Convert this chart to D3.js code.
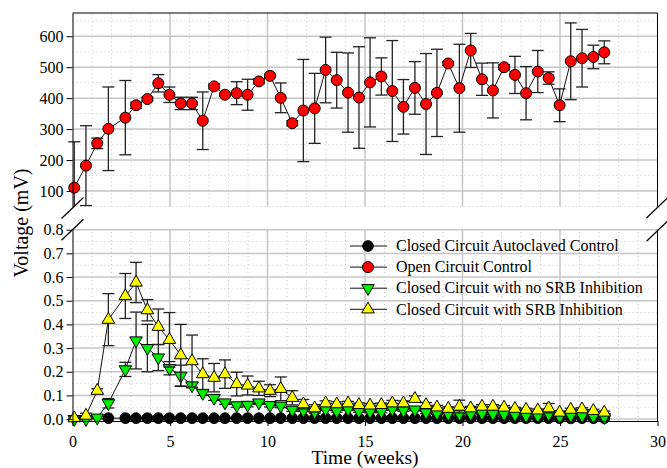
<!DOCTYPE html>
<html>
<head>
<meta charset="utf-8">
<script src="https://cdnjs.cloudflare.com/ajax/libs/d3/7.8.5/d3.min.js"></script>
<style>
body { margin: 0; background: #fff; }
text { font-family: "Liberation Serif", "Times New Roman", serif; }
</style>
</head>
<body>
<div id="chart-area"></div>
<script>
// DATA (time in weeks, voltage: top panel in mV, bottom panel as plotted)
var weeks = [0.09, 0.69, 1.27, 1.84, 2.71, 3.26, 3.84, 4.40, 4.97, 5.55,
  6.13, 6.68, 7.26, 7.82, 8.42, 8.98, 9.56, 10.13, 10.68, 11.27,
  11.84, 12.42, 12.98, 13.55, 14.13, 14.69, 15.26, 15.84, 16.40, 16.97,
  17.56, 18.13, 18.69, 19.27, 19.84, 20.42, 21.0, 21.56, 22.13, 22.69,
  23.26, 23.86, 24.42, 24.98, 25.55, 26.13, 26.71, 27.27]

var openCircuit = [111, 182, 254, 301, 337, 377, 397, 448, 411, 383,
  383, 327, 438, 411, 416, 411, 454, 472, 401, 319,
  360, 367, 491, 458, 418, 402, 451, 470, 423, 372,
  433, 381, 417, 512, 432, 554, 461, 425, 500, 475,
  416, 486, 465, 377, 519, 529, 533, 548]
var openCircuitErr = [148, 129, 17, 135, 120, 10, 6, 28, 25, 20,
  20, 93, 8, 5, 37, 50, 8, 5, 48, 8,
  165, 113, 106, 90, 128, 164, 144, 60, 163, 88,
  85, 163, 141, 6, 142, 55, 52, 89, 8, 60,
  86, 68, 20, 53, 124, 93, 38, 37]

var autoclaved = [null, null, null, 0.004, 0.004, 0.004, 0.004, 0.004, 0.004, 0.004,
  0.004, 0.004, 0.004, 0.004, 0.004, 0.004, 0.004, 0.004, 0.004, 0.004,
  0.004, 0.004, 0.004, 0.004, 0.004, 0.004, 0.004, 0.004, 0.004, 0.004,
  0.004, 0.004, 0.004, 0.004, 0.004, 0.004, 0.004, 0.004, 0.004, 0.004,
  0.004, 0.004, 0.004, 0.004, 0.003, 0.004, 0.004, 0.004]

var noSRB = [0.0, 0.0, 0.006, 0.067, 0.21, 0.332, 0.30, 0.26, 0.215, 0.183,
  0.142, 0.11, 0.089, 0.07, 0.058, 0.06, 0.07, 0.059, 0.056, 0.039,
  0.037, 0.03, 0.042, 0.034, 0.042, 0.034, 0.032, 0.032, 0.042, 0.037,
  0.04, 0.028, 0.025, 0.022, 0.022, 0.022, 0.025, 0.022, 0.021, 0.018,
  0.014, 0.014, 0.021, 0.011, 0.015, 0.014, 0.011, 0.008]
var noSRBErr = [0.003, 0.003, 0.005, 0.02, 0.03, 0.12, 0.10, 0.055, 0.028, 0.045,
  0.01, 0.01, 0.01, 0.008, 0.008, 0.008, 0.008, 0.008, 0.008, 0.006,
  0.005, 0.005, 0.005, 0.005, 0.005, 0.005, 0.005, 0.005, 0.005, 0.005,
  0.005, 0.005, 0.005, 0.005, 0.005, 0.005, 0.005, 0.005, 0.005, 0.005,
  0.005, 0.005, 0.005, 0.005, 0.005, 0.005, 0.005, 0.005]

var withSRB = [0.004, 0.015, 0.12, 0.42, 0.52, 0.577, 0.46, 0.39, 0.335, 0.27,
  0.245, 0.19, 0.175, 0.19, 0.148, 0.142, 0.13, 0.12, 0.128, 0.09,
  0.063, 0.046, 0.067, 0.063, 0.067, 0.06, 0.058, 0.06, 0.067, 0.067,
  0.086, 0.06, 0.05, 0.044, 0.053, 0.046, 0.053, 0.053, 0.049, 0.044,
  0.04, 0.037, 0.046, 0.028, 0.04, 0.042, 0.035, 0.028]
var withSRBErr = [0.005, 0.01, 0.008, 0.11, 0.095, 0.085, 0.045, 0.075, 0.115, 0.13,
  0.11, 0.065, 0.06, 0.06, 0.05, 0.04, 0.03, 0.025, 0.05, 0.03,
  0.02, 0.015, 0.01, 0.01, 0.008, 0.008, 0.008, 0.008, 0.012, 0.01,
  0.012, 0.01, 0.008, 0.008, 0.027, 0.008, 0.008, 0.008, 0.008, 0.006,
  0.006, 0.006, 0.02, 0.006, 0.006, 0.006, 0.006, 0.006]

var topTicks = [100, 200, 300, 400, 500, 600]
var bottomTicks = [0, 0.1, 0.2, 0.3, 0.4, 0.5, 0.6, 0.7, 0.8]
var xTicks = [0, 5, 10, 15, 20, 25, 30]

var legendLabels = ["Closed Circuit Autoclaved Control", "Open Circuit Control",
  "Closed Circuit with no SRB Inhibition", "Closed Circuit with SRB Inhibition"]

var width = 667
var height = 468
var serif = "'Liberation Serif', 'Times New Roman', serif"

var svg = d3.select("#chart-area").append("svg")
.attr("width", width)
.attr("height", height)

var x = d3.scaleLinear().domain([0, 30]).range([72.5, 657.5])
var yTop = d3.scaleLinear().domain([50, 675]).range([206.5, 13])
var yBot = d3.scaleLinear().domain([-0.008, 0.8]).range([421, 229.7])

var gridColor = "#c6c6c6"

// GRID
function drawGrid(y, major, minor) {
  var g = svg.append("g")
  var y0 = y.range()[0], y1 = y.range()[1]
  var xMinor = d3.range(1, 30).filter(d => d % 5 !== 0)
  var xMajor = [5, 10, 15, 20, 25]

  g.selectAll(".vminor").data(xMinor).enter().append("line")
  .attr("x1", d => x(d)).attr("x2", d => x(d))
  .attr("y1", y0).attr("y2", y1)
  .attr("stroke", gridColor).attr("stroke-dasharray", "1,3")

  g.selectAll(".hminor").data(minor).enter().append("line")
  .attr("x1", x(0)).attr("x2", x(30))
  .attr("y1", d => y(d)).attr("y2", d => y(d))
  .attr("stroke", gridColor).attr("stroke-dasharray", "1,3")

  g.selectAll(".vmajor").data(xMajor).enter().append("line")
  .attr("x1", d => x(d)).attr("x2", d => x(d))
  .attr("y1", y0).attr("y2", y1)
  .attr("stroke", gridColor).attr("stroke-width", 1.5)

  g.selectAll(".hmajor").data(major).enter().append("line")
  .attr("x1", x(0)).attr("x2", x(30))
  .attr("y1", d => y(d)).attr("y2", d => y(d))
  .attr("stroke", gridColor).attr("stroke-width", 1.5)
}

drawGrid(yTop, topTicks, [50, 150, 250, 350, 450, 550, 650])
drawGrid(yBot, bottomTicks, [0.05, 0.15, 0.25, 0.35, 0.45, 0.55, 0.65, 0.75])

// SERIES
function drawSeries(y, values, errs, shape, fill, size, rot) {
  var pts = weeks.map((w, i) => ({x: w, v: values[i], e: errs ? errs[i] : 0}))
  .filter(d => d.v !== null)
  var g = svg.append("g")
  var lo = y.domain()[0], hi = y.domain()[1]

  var line = d3.line().x(d => x(d.x)).y(d => y(d.v))
  g.append("path").datum(pts)
  .attr("d", line)
  .attr("fill", "none")
  .attr("stroke", "#111")
  .attr("stroke-width", 1)

  if (errs) {
    var eb = g.selectAll(".err").data(pts.filter(d => d.e > 0)).enter().append("g")
    .attr("stroke", "#222").attr("stroke-width", 1.3)
    eb.append("line")
    .attr("x1", d => x(d.x)).attr("x2", d => x(d.x))
    .attr("y1", d => y(Math.max(lo, d.v - d.e))).attr("y2", d => y(Math.min(hi, d.v + d.e)))
    eb.filter(d => d.v + d.e <= hi).append("line")
    .attr("x1", d => x(d.x) - 6).attr("x2", d => x(d.x) + 6)
    .attr("y1", d => y(d.v + d.e)).attr("y2", d => y(d.v + d.e))
    eb.filter(d => d.v - d.e >= lo).append("line")
    .attr("x1", d => x(d.x) - 6).attr("x2", d => x(d.x) + 6)
    .attr("y1", d => y(d.v - d.e)).attr("y2", d => y(d.v - d.e))
  }

  g.selectAll(".pt").data(pts).enter().append("path")
  .attr("d", d3.symbol().type(shape).size(size))
  .attr("transform", d => "translate(" + x(d.x) + "," + y(d.v) + ") rotate(" + rot + ")")
  .attr("fill", fill)
  .attr("stroke", "#000")
  .attr("stroke-width", 1)
}

drawSeries(yBot, autoclaved, null, d3.symbolCircle, "#000", 90, 0)
drawSeries(yTop, openCircuit, openCircuitErr, d3.symbolCircle, "#ff0000", 95, 0)
drawSeries(yBot, noSRB, noSRBErr, d3.symbolTriangle, "#00ee00", 68, 180)
drawSeries(yBot, withSRB, withSRBErr, d3.symbolTriangle, "#ffff00", 68, 0)

// AXES
var axTop = svg.append("g")
.attr("transform", "translate(" + x(0) + ",0)")
.call(d3.axisLeft(yTop).tickValues(topTicks).tickSize(6).tickSizeOuter(0).tickPadding(3))

var axBot = svg.append("g")
.attr("transform", "translate(" + x(0) + ",0)")
.call(d3.axisLeft(yBot).tickValues(bottomTicks).tickFormat(d3.format(".1f")).tickSize(6).tickSizeOuter(0).tickPadding(3))

var axX = svg.append("g")
.attr("transform", "translate(0," + yBot.range()[0] + ")")
.call(d3.axisBottom(x).tickValues(xTicks).tickSize(5).tickSizeOuter(0).tickPadding(10))

;[axTop, axBot, axX].forEach(a => a.attr("font-family", serif).attr("font-size", 16))
svg.selectAll(".tick text").attr("fill", "#000").style("font-family", serif).style("font-size", "16px")
svg.selectAll(".domain, .tick line").attr("stroke", "#000")

// frame
svg.append("line").attr("x1", x(0)).attr("x2", x(30)).attr("y1", yTop.range()[1]).attr("y2", yTop.range()[1]).attr("stroke", "#000")
svg.append("line").attr("x1", x(30)).attr("x2", x(30)).attr("y1", yTop.range()[1]).attr("y2", yTop.range()[0]).attr("stroke", "#000")
svg.append("line").attr("x1", x(30)).attr("x2", x(30)).attr("y1", yBot.range()[1]).attr("y2", yBot.range()[0]).attr("stroke", "#000")

// break marks
var breaks = [[x(0), yTop.range()[0] + 1.5], [x(0), yBot.range()[1]],
  [x(30), yTop.range()[0] + 1], [x(30), yBot.range()[1] + 1]]
svg.selectAll(".brk").data(breaks).enter().append("line")
.attr("x1", d => d[0] - 11).attr("y1", d => d[1] + 10.5)
.attr("x2", d => d[0] + 11).attr("y2", d => d[1] - 10.5)
.attr("stroke", "#000").attr("stroke-width", 1.2)

// LABELS
svg.append("text")
.attr("transform", "translate(28,223) rotate(-90)")
.attr("text-anchor", "middle")
.attr("font-size", "20px")
.style("fill", "black")
.text("Voltage (mV)")

svg.append("text")
.attr("x", x(15))
.attr("y", 463.5)
.attr("text-anchor", "middle")
.attr("font-size", "19.5px")
.style("fill", "black")
.text("Time (weeks)")

// LEGEND
var legendStyle = [
  {shape: d3.symbolCircle, fill: "#000", size: 90, rot: 0},
  {shape: d3.symbolCircle, fill: "#ff0000", size: 95, rot: 0},
  {shape: d3.symbolTriangle, fill: "#00ee00", size: 68, rot: 180},
  {shape: d3.symbolTriangle, fill: "#ffff00", size: 68, rot: 0}
]
var legend = svg.append("g")
var rows = legend.selectAll(".row").data(legendLabels).enter().append("g")
.attr("transform", (d, i) => "translate(0," + (246 + i * 21.1) + ")")
rows.append("line").attr("x1", 350).attr("x2", 387).attr("y1", 0).attr("y2", 0)
.attr("stroke", "#111").attr("stroke-width", 1)
rows.append("path")
.attr("d", (d, i) => d3.symbol().type(legendStyle[i].shape).size(legendStyle[i].size)())
.attr("transform", (d, i) => "translate(368,0) rotate(" + legendStyle[i].rot + ")")
.attr("fill", (d, i) => legendStyle[i].fill)
.attr("stroke", "#000")
rows.append("text")
.attr("x", 396)
.attr("y", 0)
.attr("dy", "0.33em")
.attr("font-size", "16px")
.style("fill", "black")
.text(d => d)
</script>
</body>
</html>
